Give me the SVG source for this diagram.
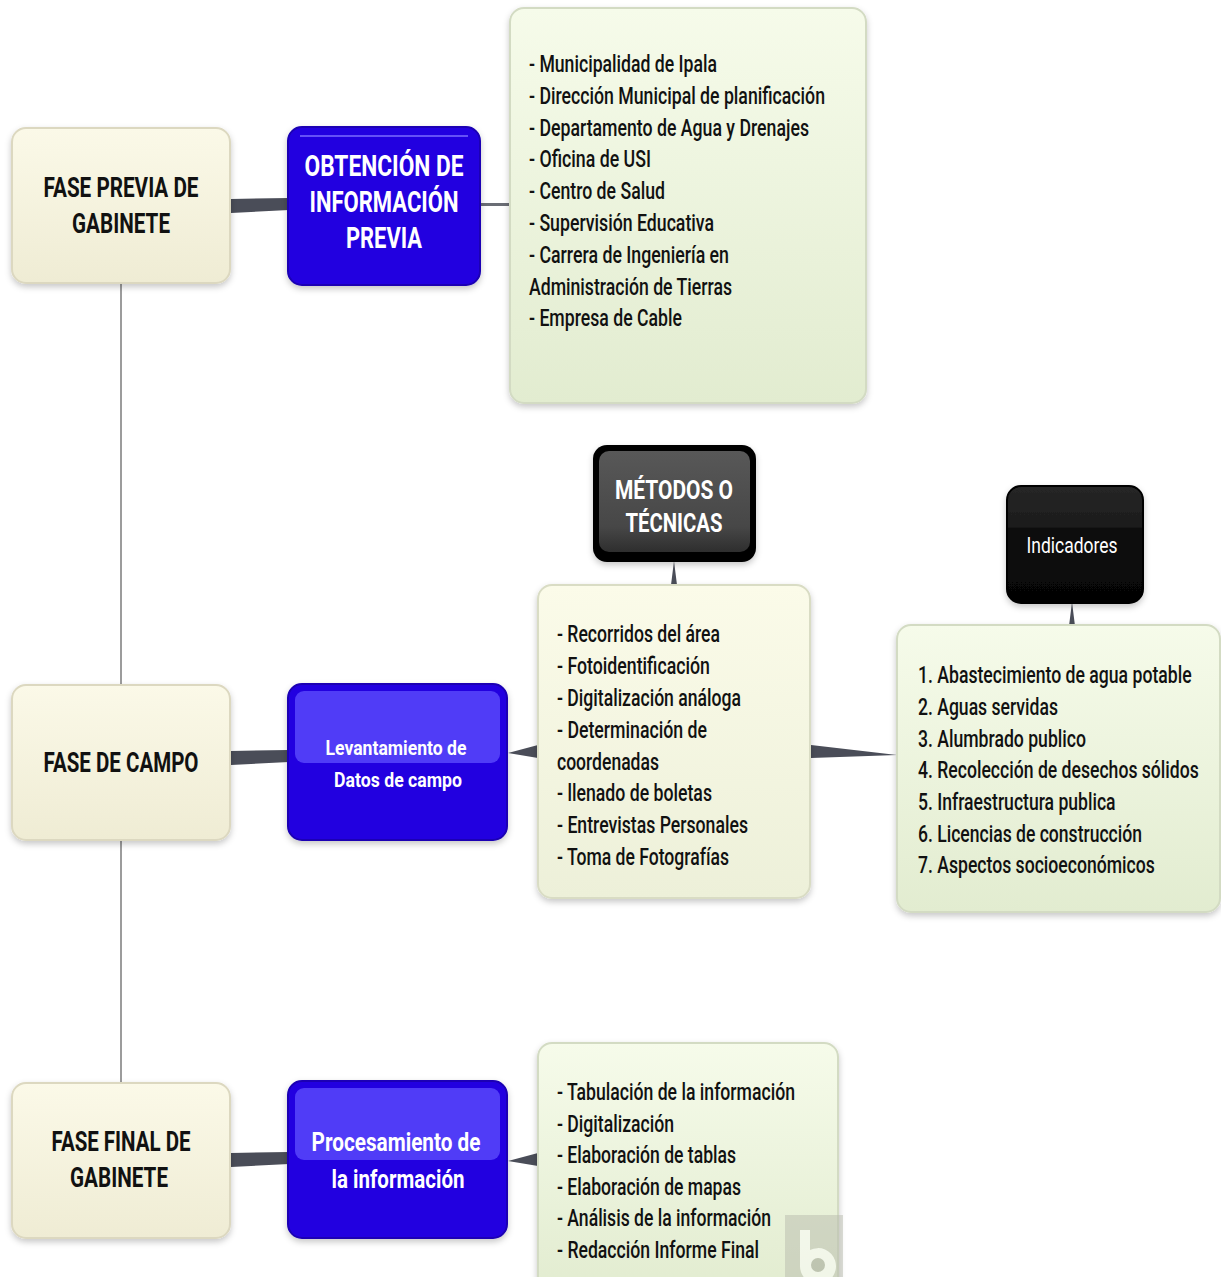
<svg xmlns="http://www.w3.org/2000/svg" width="1221" height="1277" viewBox="0 0 1221 1277">
<defs>
<linearGradient id="cream" x1="0" y1="0" x2="0" y2="1"><stop offset="0" stop-color="#fbf9e8"/><stop offset="1" stop-color="#efecd4"/></linearGradient>
<linearGradient id="green" x1="0" y1="0" x2="0" y2="1"><stop offset="0" stop-color="#f6fbea"/><stop offset="1" stop-color="#e2ecd0"/></linearGradient>
<linearGradient id="meth" x1="0" y1="0" x2="0" y2="1"><stop offset="0" stop-color="#fbfbe9"/><stop offset="1" stop-color="#edf0d9"/></linearGradient>
<linearGradient id="gray" x1="0" y1="0" x2="0" y2="1"><stop offset="0" stop-color="#585858"/><stop offset="0.75" stop-color="#474747"/><stop offset="1" stop-color="#2e2e2e"/></linearGradient>
<linearGradient id="black" x1="0" y1="0" x2="0" y2="1"><stop offset="0" stop-color="#262626"/><stop offset="0.35" stop-color="#1c1c1c"/><stop offset="0.36" stop-color="#0c0c0c"/><stop offset="1" stop-color="#050505"/></linearGradient>
<filter id="sh" x="-10%" y="-10%" width="120%" height="125%"><feDropShadow dx="0" dy="3" stdDeviation="3" flood-color="#000" flood-opacity="0.22"/></filter>
<style>
.cream{fill:url(#cream);stroke:#dcd8c0;stroke-width:2}
.green{fill:url(#green);stroke:#d3dbc3;stroke-width:2}
.meth{fill:url(#meth);stroke:#d9dcc4;stroke-width:2}
.blue{fill:#2400e0;stroke:#1a00b4;stroke-width:2}
.hl{fill:#6050ff;opacity:0.75}
.h{font-family:Roboto,"Liberation Sans",sans-serif;font-weight:700;fill:#111;text-anchor:middle}
.w{font-family:Roboto,"Liberation Sans",sans-serif;font-weight:700;fill:#fff;text-anchor:middle}
.l{font-family:Roboto,"Liberation Sans",sans-serif;font-weight:500;fill:#111;font-size:23px}
.conn{fill:#4a4d58}
</style>
</defs>
<rect width="1221" height="1277" fill="#fff"/>

<g id="connectors">
<line x1="121" y1="283" x2="121" y2="686" stroke="#9c9c9c" stroke-width="2"/>
<line x1="121" y1="840" x2="121" y2="1084" stroke="#9c9c9c" stroke-width="2"/>
<polygon class="conn" points="231,199 289,198 289,210 231,213"/>
<rect x="480" y="203" width="31" height="3" fill="#6a6d75"/>
<polygon class="conn" points="231,751 289,750 289,762 231,765"/>
<polygon class="conn" points="508,753 538,745 538,758"/>
<polygon class="conn" points="674,561 671,585 677,585"/>
<polygon class="conn" points="811,745 811,758 897,755"/>
<polygon class="conn" points="1072,602 1069,626 1075,626"/>
<polygon class="conn" points="231,1153 289,1152 289,1164 231,1167"/>
<polygon class="conn" points="508,1161 538,1153 538,1166"/>
</g>

<g id="n-fase-previa">
<rect class="cream" filter="url(#sh)" x="12" y="128" width="218" height="155" rx="14"/>
<text class="h" font-size="27" x="121" y="197" textLength="155" lengthAdjust="spacingAndGlyphs">FASE PREVIA DE</text>
<text class="h" font-size="27" x="121" y="233" textLength="98" lengthAdjust="spacingAndGlyphs">GABINETE</text>
</g>

<g id="n-obtencion">
<rect class="blue" filter="url(#sh)" x="288" y="127" width="192" height="158" rx="14"/>
<line x1="300" y1="136" x2="468" y2="136" stroke="#7d6cff" stroke-width="1.5"/>
<text class="w" font-size="30" x="384" y="176" textLength="159" lengthAdjust="spacingAndGlyphs">OBTENCIÓN DE</text>
<text class="w" font-size="30" x="384" y="212" textLength="149" lengthAdjust="spacingAndGlyphs">INFORMACIÓN</text>
<text class="w" font-size="30" x="384" y="248" textLength="76" lengthAdjust="spacingAndGlyphs">PREVIA</text>
</g>

<g id="n-instituciones">
<rect class="green" filter="url(#sh)" x="510" y="8" width="356" height="395" rx="14"/>
<text class="l" x="529" y="72" textLength="188" lengthAdjust="spacingAndGlyphs">- Municipalidad de Ipala</text>
<text class="l" x="529" y="104" textLength="296" lengthAdjust="spacingAndGlyphs">- Dirección Municipal de planificación</text>
<text class="l" x="529" y="136" textLength="280" lengthAdjust="spacingAndGlyphs">- Departamento de Agua y Drenajes</text>
<text class="l" x="529" y="167" textLength="122" lengthAdjust="spacingAndGlyphs">- Oficina de USI</text>
<text class="l" x="529" y="199" textLength="136" lengthAdjust="spacingAndGlyphs">- Centro de Salud</text>
<text class="l" x="529" y="231" textLength="185" lengthAdjust="spacingAndGlyphs">- Supervisión Educativa</text>
<text class="l" x="529" y="263" textLength="200" lengthAdjust="spacingAndGlyphs">- Carrera de Ingeniería en</text>
<text class="l" x="529" y="295" textLength="203" lengthAdjust="spacingAndGlyphs">Administración de Tierras</text>
<text class="l" x="529" y="326" textLength="153" lengthAdjust="spacingAndGlyphs">- Empresa de Cable</text>
</g>

<g id="n-fase-campo">
<rect class="cream" filter="url(#sh)" x="12" y="685" width="218" height="155" rx="14"/>
<text class="h" font-size="27" x="121" y="772" textLength="155" lengthAdjust="spacingAndGlyphs">FASE DE CAMPO</text>
</g>

<g id="n-levantamiento">
<rect class="blue" filter="url(#sh)" x="288" y="684" width="219" height="156" rx="14"/>
<rect class="hl" x="295" y="691" width="205" height="72" rx="9"/>
<text class="w" font-size="21" font-weight="500" x="396" y="755" textLength="141" lengthAdjust="spacingAndGlyphs">Levantamiento de</text>
<text class="w" font-size="21" font-weight="500" x="398" y="787" textLength="128" lengthAdjust="spacingAndGlyphs">Datos de campo</text>
</g>

<g id="n-metodos">
<rect x="593" y="445" width="163" height="117" rx="14" fill="#000" filter="url(#sh)"/>
<rect x="599" y="451" width="151" height="101" rx="10" fill="url(#gray)"/>
<text class="w" font-size="26" x="674" y="499" textLength="118" lengthAdjust="spacingAndGlyphs">MÉTODOS O</text>
<text class="w" font-size="26" x="674" y="532" textLength="97" lengthAdjust="spacingAndGlyphs">TÉCNICAS</text>
</g>

<g id="n-tecnicas-lista">
<rect class="meth" filter="url(#sh)" x="538" y="585" width="272" height="313" rx="14"/>
<text class="l" x="557" y="642" textLength="163" lengthAdjust="spacingAndGlyphs">- Recorridos del área</text>
<text class="l" x="557" y="674" textLength="153" lengthAdjust="spacingAndGlyphs">- Fotoidentificación</text>
<text class="l" x="557" y="706" textLength="184" lengthAdjust="spacingAndGlyphs">- Digitalización análoga</text>
<text class="l" x="557" y="738" textLength="150" lengthAdjust="spacingAndGlyphs">- Determinación de</text>
<text class="l" x="557" y="770" textLength="102" lengthAdjust="spacingAndGlyphs">coordenadas</text>
<text class="l" x="557" y="801" textLength="155" lengthAdjust="spacingAndGlyphs">- llenado de boletas</text>
<text class="l" x="557" y="833" textLength="191" lengthAdjust="spacingAndGlyphs">- Entrevistas Personales</text>
<text class="l" x="557" y="865" textLength="172" lengthAdjust="spacingAndGlyphs">- Toma de Fotografías</text>
</g>

<g id="n-indicadores">
<rect x="1007" y="486" width="136" height="117" rx="14" fill="url(#black)" stroke="#000" stroke-width="2" filter="url(#sh)"/>
<text font-family="Roboto,'Liberation Sans',sans-serif" font-size="22" fill="#fff" text-anchor="middle" x="1072" y="553" textLength="91" lengthAdjust="spacingAndGlyphs">Indicadores</text>
</g>

<g id="n-indicadores-lista">
<rect class="green" filter="url(#sh)" x="897" y="625" width="323" height="287" rx="14"/>
<g transform="translate(918 0) scale(0.8 1)">
<text class="l" x="0" y="683" textLength="342" lengthAdjust="spacingAndGlyphs">1. Abastecimiento de agua potable</text>
<text class="l" x="0" y="715" textLength="175" lengthAdjust="spacingAndGlyphs">2. Aguas servidas</text>
<text class="l" x="0" y="747" textLength="210" lengthAdjust="spacingAndGlyphs">3. Alumbrado publico</text>
<text class="l" x="0" y="778" textLength="351" lengthAdjust="spacingAndGlyphs">4. Recolección de desechos sólidos</text>
<text class="l" x="0" y="810" textLength="247" lengthAdjust="spacingAndGlyphs">5. Infraestructura publica</text>
<text class="l" x="0" y="842" textLength="280" lengthAdjust="spacingAndGlyphs">6. Licencias de construcción</text>
<text class="l" x="0" y="873" textLength="296" lengthAdjust="spacingAndGlyphs">7. Aspectos socioeconómicos</text>
</g>
</g>

<g id="n-fase-final">
<rect class="cream" filter="url(#sh)" x="12" y="1083" width="218" height="155" rx="14"/>
<text class="h" font-size="27" x="121" y="1151" textLength="139" lengthAdjust="spacingAndGlyphs">FASE FINAL DE</text>
<text class="h" font-size="27" x="119" y="1187" textLength="98" lengthAdjust="spacingAndGlyphs">GABINETE</text>
</g>

<g id="n-procesamiento">
<rect class="blue" filter="url(#sh)" x="288" y="1081" width="219" height="157" rx="14"/>
<rect class="hl" x="295" y="1088" width="205" height="72" rx="9"/>
<text class="w" font-size="25" font-weight="500" x="396" y="1151" textLength="169" lengthAdjust="spacingAndGlyphs">Procesamiento de</text>
<text class="w" font-size="25" font-weight="500" x="398" y="1188" textLength="133" lengthAdjust="spacingAndGlyphs">la información</text>
</g>

<g id="n-procesamiento-lista">
<rect class="green" filter="url(#sh)" x="538" y="1043" width="300" height="250" rx="14"/>
<text class="l" x="557" y="1100" textLength="238" lengthAdjust="spacingAndGlyphs">- Tabulación de la información</text>
<text class="l" x="557" y="1132" textLength="117" lengthAdjust="spacingAndGlyphs">- Digitalización</text>
<text class="l" x="557" y="1163" textLength="179" lengthAdjust="spacingAndGlyphs">- Elaboración de tablas</text>
<text class="l" x="557" y="1195" textLength="184" lengthAdjust="spacingAndGlyphs">- Elaboración de mapas</text>
<text class="l" x="557" y="1226" textLength="214" lengthAdjust="spacingAndGlyphs">- Análisis de la información</text>
<text class="l" x="557" y="1258" textLength="202" lengthAdjust="spacingAndGlyphs">- Redacción Informe Final</text>
</g>

<g id="watermark" opacity="0.5">
<rect x="785" y="1215" width="58" height="62" fill="#b9bcae"/>
<path d="M800 1230 h10 v20 a18 18 0 1 1 -10 16 z" fill="#fff"/>
<circle cx="818" cy="1265" r="7" fill="#9a9d90"/>
</g>
</svg>
